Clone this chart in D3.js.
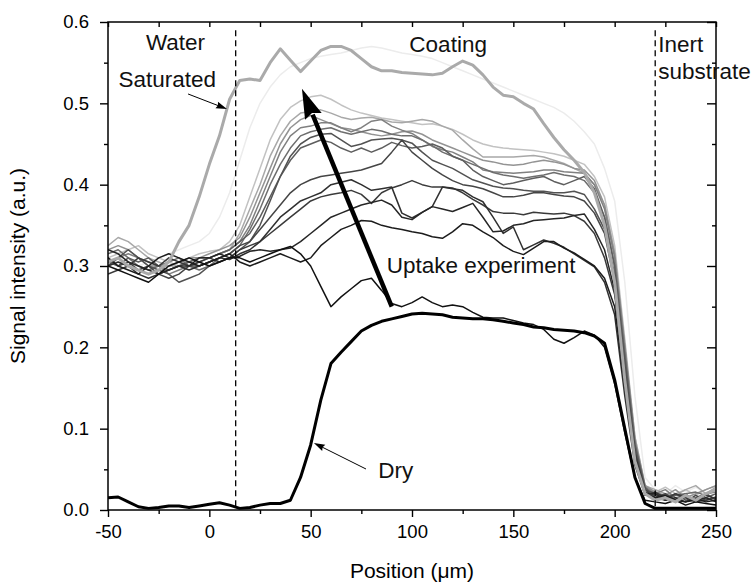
<!DOCTYPE html>
<html><head><meta charset="utf-8">
<script src="https://cdn.jsdelivr.net/npm/d3@7"></script>
<style>
html,body{margin:0;padding:0;background:#fff;}
svg{display:block;font-family:"Liberation Sans",Arial,sans-serif;}
</style></head><body>
<svg id="chart" width="755" height="583"></svg>
<script>
// Depth positions (µm) shared by every profile
const positions = [-50,-45,-40,-35,-30,-25,-20,-15,-10,-5,
  0,5,10,15,20,25,30,35,40,45,
  50,55,60,65,70,75,80,85,90,95,
  100,105,110,115,120,125,130,135,140,145,
  150,155,160,165,170,175,180,185,190,195,
  200,205,210,215,220,225,230,235,240,245,250];

// Fully water-saturated coating
const saturated = [0.305,0.31,0.30,0.295,0.29,0.295,0.305,0.33,0.35,0.385,
  0.425,0.46,0.505,0.528,0.53,0.528,0.55,0.567,0.553,0.539,
  0.552,0.565,0.57,0.57,0.565,0.555,0.545,0.54,0.54,0.538,
  0.537,0.536,0.535,0.537,0.545,0.552,0.547,0.535,0.52,0.51,
  0.508,0.50,0.493,0.475,0.458,0.443,0.43,0.415,0.39,0.35,
  0.28,0.16,0.06,0.02,0.012,0.015,0.01,0.018,0.012,0.02,0.025];

// Dry coating
const dry = [0.015,0.016,0.01,0.004,0.002,0.003,0.005,0.005,0.003,0.005,
  0.007,0.009,0.006,0.002,0.003,0.006,0.008,0.008,0.012,0.04,
  0.08,0.135,0.18,0.194,0.207,0.22,0.227,0.232,0.235,0.238,
  0.241,0.242,0.241,0.24,0.237,0.236,0.235,0.235,0.234,0.232,
  0.23,0.228,0.225,0.224,0.222,0.221,0.22,0.218,0.214,0.205,
  0.16,0.10,0.04,0.008,0.002,0.002,0.002,0.002,0.002,0.002,0.002];

// Profiles recorded during the uptake experiment, earliest first
const uptake1 = [0.30,0.295,0.29,0.285,0.28,0.29,0.30,0.305,0.31,0.305,
  0.30,0.305,0.31,0.31,0.305,0.31,0.315,0.32,0.324,0.315,
  0.30,0.275,0.25,0.262,0.272,0.282,0.285,0.27,0.254,0.25,
  0.255,0.262,0.255,0.25,0.252,0.25,0.243,0.237,0.236,0.236,
  0.233,0.23,0.228,0.222,0.21,0.205,0.212,0.22,0.215,0.20,
  0.155,0.095,0.04,0.012,0.01,0.008,0.012,0.006,0.01,0.008,0.006];
const uptake2 = [0.31,0.30,0.295,0.29,0.30,0.31,0.315,0.31,0.305,0.30,
  0.305,0.31,0.315,0.305,0.30,0.305,0.31,0.315,0.31,0.305,
  0.31,0.325,0.335,0.345,0.35,0.356,0.355,0.35,0.347,0.345,
  0.342,0.34,0.336,0.334,0.342,0.352,0.35,0.342,0.335,0.325,
  0.318,0.314,0.322,0.33,0.33,0.322,0.316,0.308,0.30,0.285,
  0.25,0.15,0.06,0.02,0.015,0.018,0.012,0.01,0.014,0.01,0.012];
const uptake3 = [0.32,0.315,0.305,0.30,0.295,0.29,0.295,0.30,0.30,0.31,
  0.31,0.315,0.31,0.312,0.318,0.32,0.318,0.32,0.322,0.33,
  0.34,0.35,0.36,0.365,0.37,0.375,0.378,0.381,0.375,0.36,
  0.357,0.366,0.373,0.37,0.367,0.372,0.377,0.36,0.342,0.343,
  0.35,0.352,0.356,0.357,0.358,0.359,0.362,0.364,0.345,0.32,
  0.27,0.16,0.065,0.02,0.02,0.012,0.015,0.01,0.012,0.015,0.01];
const uptake4 = [0.30,0.305,0.30,0.29,0.285,0.29,0.295,0.30,0.295,0.30,
  0.305,0.31,0.308,0.315,0.32,0.33,0.345,0.36,0.37,0.38,
  0.385,0.39,0.40,0.403,0.406,0.40,0.393,0.395,0.397,0.365,
  0.359,0.366,0.373,0.397,0.395,0.393,0.385,0.379,0.36,0.34,
  0.348,0.32,0.326,0.332,0.328,0.323,0.315,0.307,0.299,0.28,
  0.24,0.14,0.055,0.018,0.022,0.015,0.01,0.016,0.012,0.018,0.014];
const uptake5 = [0.29,0.295,0.30,0.31,0.305,0.30,0.31,0.305,0.30,0.305,
  0.31,0.305,0.31,0.32,0.325,0.33,0.34,0.35,0.36,0.37,
  0.38,0.385,0.388,0.39,0.393,0.388,0.377,0.39,0.396,0.40,
  0.405,0.40,0.397,0.397,0.396,0.39,0.382,0.375,0.367,0.365,
  0.365,0.363,0.366,0.365,0.364,0.365,0.362,0.355,0.34,0.31,
  0.265,0.165,0.07,0.022,0.018,0.012,0.02,0.015,0.01,0.012,0.016];
const uptake6 = [0.31,0.30,0.305,0.295,0.30,0.29,0.285,0.29,0.30,0.30,
  0.305,0.31,0.315,0.325,0.33,0.345,0.36,0.375,0.39,0.40,
  0.406,0.41,0.412,0.414,0.416,0.418,0.422,0.426,0.44,0.455,
  0.44,0.43,0.42,0.412,0.405,0.40,0.398,0.395,0.39,0.385,
  0.385,0.387,0.39,0.39,0.388,0.386,0.385,0.38,0.365,0.34,
  0.28,0.17,0.07,0.025,0.015,0.02,0.012,0.01,0.018,0.012,0.015];
const uptake7 = [0.30,0.31,0.32,0.31,0.30,0.295,0.29,0.28,0.285,0.29,
  0.30,0.305,0.31,0.32,0.33,0.35,0.38,0.41,0.435,0.45,
  0.458,0.462,0.463,0.455,0.447,0.45,0.455,0.456,0.457,0.455,
  0.451,0.44,0.43,0.425,0.42,0.413,0.406,0.402,0.398,0.396,
  0.395,0.393,0.392,0.392,0.39,0.39,0.392,0.388,0.37,0.345,
  0.29,0.18,0.075,0.025,0.02,0.015,0.02,0.012,0.015,0.02,0.012];
const uptake8 = [0.305,0.30,0.31,0.305,0.31,0.30,0.295,0.30,0.305,0.31,
  0.31,0.315,0.32,0.33,0.34,0.36,0.385,0.41,0.43,0.445,
  0.45,0.455,0.452,0.445,0.44,0.445,0.44,0.445,0.452,0.448,
  0.445,0.447,0.45,0.445,0.435,0.43,0.418,0.41,0.405,0.40,
  0.402,0.405,0.408,0.41,0.404,0.40,0.405,0.41,0.395,0.36,
  0.30,0.19,0.08,0.028,0.015,0.012,0.018,0.02,0.01,0.015,0.02];
const uptake9 = [0.315,0.32,0.31,0.30,0.295,0.30,0.305,0.31,0.30,0.295,
  0.30,0.31,0.315,0.325,0.345,0.37,0.40,0.425,0.445,0.46,
  0.465,0.468,0.47,0.465,0.462,0.465,0.468,0.466,0.462,0.46,
  0.46,0.455,0.448,0.44,0.435,0.43,0.425,0.42,0.415,0.412,
  0.41,0.408,0.41,0.412,0.415,0.412,0.41,0.405,0.39,0.36,
  0.30,0.19,0.08,0.025,0.02,0.018,0.012,0.02,0.022,0.018,0.025];
const uptake10 = [0.30,0.31,0.315,0.31,0.30,0.30,0.29,0.295,0.30,0.305,
  0.31,0.315,0.32,0.33,0.35,0.38,0.41,0.44,0.46,0.47,
  0.472,0.476,0.476,0.47,0.465,0.47,0.478,0.48,0.472,0.467,
  0.463,0.455,0.447,0.443,0.44,0.434,0.428,0.418,0.416,0.415,
  0.414,0.415,0.416,0.418,0.418,0.416,0.415,0.414,0.40,0.37,
  0.31,0.20,0.085,0.028,0.02,0.025,0.015,0.018,0.012,0.02,0.022];
const uptake11 = [0.32,0.325,0.32,0.31,0.305,0.30,0.30,0.305,0.31,0.31,
  0.315,0.32,0.325,0.335,0.36,0.39,0.42,0.45,0.47,0.48,
  0.485,0.48,0.475,0.47,0.468,0.465,0.462,0.46,0.462,0.465,
  0.466,0.462,0.455,0.45,0.445,0.44,0.435,0.43,0.428,0.425,
  0.424,0.425,0.428,0.43,0.428,0.425,0.42,0.418,0.405,0.375,
  0.315,0.20,0.085,0.03,0.022,0.018,0.025,0.015,0.02,0.025,0.03];
const uptake12 = [0.325,0.335,0.33,0.32,0.31,0.305,0.30,0.30,0.305,0.31,
  0.31,0.315,0.32,0.34,0.37,0.40,0.435,0.46,0.478,0.488,
  0.49,0.492,0.488,0.483,0.48,0.482,0.483,0.48,0.477,0.476,
  0.478,0.48,0.478,0.472,0.467,0.455,0.444,0.434,0.434,0.434,
  0.434,0.435,0.436,0.434,0.43,0.426,0.42,0.414,0.40,0.375,
  0.315,0.205,0.09,0.03,0.025,0.02,0.018,0.025,0.03,0.02,0.028];
const uptake13 = [0.31,0.315,0.32,0.325,0.315,0.31,0.305,0.30,0.31,0.315,
  0.318,0.32,0.33,0.35,0.385,0.42,0.455,0.48,0.495,0.503,
  0.508,0.51,0.505,0.498,0.492,0.488,0.485,0.482,0.48,0.478,
  0.476,0.474,0.475,0.472,0.468,0.462,0.455,0.45,0.447,0.445,
  0.444,0.443,0.442,0.44,0.438,0.435,0.43,0.425,0.41,0.385,
  0.325,0.21,0.09,0.03,0.022,0.028,0.02,0.025,0.018,0.025,0.03];
const uptake14 = [0.31,0.305,0.30,0.30,0.305,0.31,0.315,0.32,0.325,0.33,
  0.34,0.36,0.39,0.43,0.47,0.50,0.52,0.535,0.545,0.55,
  0.555,0.558,0.56,0.562,0.565,0.568,0.57,0.568,0.565,0.562,
  0.56,0.558,0.555,0.55,0.545,0.54,0.535,0.53,0.525,0.52,
  0.515,0.51,0.505,0.50,0.495,0.488,0.478,0.465,0.45,0.42,
  0.38,0.28,0.14,0.04,0.025,0.02,0.03,0.022,0.028,0.02,0.025];

const uptakeSeries = [uptake1,uptake2,uptake3,uptake4,uptake5,uptake6,uptake7,
  uptake8,uptake9,uptake10,uptake11,uptake12,uptake13,uptake14];
const uptakeColors = ["#111111","#1c1c1c","#262626","#303030","#3a3a3a","#454545","#525252",
  "#5e5e5e","#6e6e6e","#808080","#939393","#a8a8a8","#c2c2c2","#ececec"];

const xMajor = [-50,0,50,100,150,200,250];
const xMinor = [-25,25,75,125,175,225];
const yMajor = [0,0.1,0.2,0.3,0.4,0.5,0.6];
const yMinor = [0.05,0.15,0.25,0.35,0.45,0.55];
const boundaries = [13,220];

const W = 755, H = 583;
const m = {left:108, right:39, top:22, bottom:73};
const x = d3.scaleLinear().domain([-50,250]).range([m.left, W - m.right]);
const y = d3.scaleLinear().domain([0,0.6]).range([H - m.bottom, m.top]);

const svg = d3.select("#chart");
const FONT = "Liberation Sans, Arial, sans-serif";

svg.append("defs").append("clipPath").attr("id","plot")
  .append("rect").attr("x",m.left).attr("y",m.top)
  .attr("width",x(250)-x(-50)).attr("height",y(0)-y(0.6));

const line = d3.line().x((d,i)=>x(positions[i])).y(d=>y(d));
const curves = svg.append("g").attr("clip-path","url(#plot)");

// latest (lightest) profiles underneath, earliest on top
for (let k = uptakeSeries.length - 1; k >= 0; k--) {
  curves.append("path").datum(uptakeSeries[k]).attr("d", line)
    .attr("fill","none").attr("stroke",uptakeColors[k])
    .attr("stroke-width",1.5).attr("stroke-linejoin","round");
}
curves.append("path").datum(saturated).attr("d", line)
  .attr("fill","none").attr("stroke","#aaaaaa").attr("stroke-width",3)
  .attr("stroke-linejoin","round");
curves.append("path").datum(dry).attr("d", line)
  .attr("fill","none").attr("stroke","#000").attr("stroke-width",3)
  .attr("stroke-linejoin","round");

// interface markers
svg.append("g").selectAll("line").data(boundaries).join("line")
  .attr("x1",d=>x(d)).attr("x2",d=>x(d))
  .attr("y1",y(0.59)).attr("y2",y(0))
  .attr("stroke","#000").attr("stroke-width",1.3)
  .attr("stroke-dasharray","6,4");

// axes
function styleAxis(g){
  g.select(".domain").remove();
  g.selectAll(".tick line").attr("stroke","#000").attr("stroke-width",1.4);
  g.selectAll(".tick text").attr("font-family",FONT).attr("font-size",18.5).attr("fill","#000");
}
svg.append("g").attr("transform",`translate(0,${y(0)})`)
  .call(d3.axisBottom(x).tickValues(xMajor).tickSize(7).tickPadding(8).tickFormat(d => String(d)))
  .call(styleAxis);
svg.append("g").attr("transform",`translate(0,${y(0)})`)
  .call(d3.axisBottom(x).tickValues(xMinor).tickSize(4).tickFormat(""))
  .call(styleAxis);
svg.append("g").attr("transform",`translate(0,${y(0.6)})`)
  .call(d3.axisBottom(x).tickValues(xMajor.concat(xMinor)).tickSize(5).tickFormat(""))
  .call(styleAxis);
svg.append("g").attr("transform",`translate(${x(-50)},0)`)
  .call(d3.axisLeft(y).tickValues(yMajor).tickSize(8).tickPadding(11).tickFormat(d => d.toFixed(1)))
  .call(styleAxis);
svg.append("g").attr("transform",`translate(${x(-50)},0)`)
  .call(d3.axisLeft(y).tickValues(yMinor).tickSize(4).tickFormat(""))
  .call(styleAxis);
svg.append("g").attr("transform",`translate(${x(250)},0)`)
  .call(d3.axisLeft(y).tickValues(yMajor).tickSize(9).tickFormat(""))
  .call(styleAxis);
svg.append("g").attr("transform",`translate(${x(250)},0)`)
  .call(d3.axisLeft(y).tickValues(yMinor).tickSize(4).tickFormat(""))
  .call(styleAxis);

// frame
svg.append("rect").attr("x",x(-50)).attr("y",y(0.6))
  .attr("width",x(250)-x(-50)).attr("height",y(0)-y(0.6))
  .attr("fill","none").attr("stroke","#000").attr("stroke-width",1.5);

// axis titles
svg.append("text").attr("x",(x(-50)+x(250))/2).attr("y",578)
  .attr("text-anchor","middle").attr("font-family",FONT).attr("font-size",21)
  .text("Position (\u03bcm)");
svg.append("text").attr("transform",`translate(25,${(y(0)+y(0.6))/2}) rotate(-90)`)
  .attr("text-anchor","middle").attr("font-family",FONT).attr("font-size",21)
  .text("Signal intensity (a.u.)");

// annotations
const labels = [
  {t:"Water", px:-31.3, py:0.565},
  {t:"Saturated", px:-44.8, py:0.52},
  {t:"Coating", px:98.7, py:0.563},
  {t:"Inert", px:221.5, py:0.563},
  {t:"substrate", px:221.5, py:0.53},
  {t:"Uptake experiment", px:87.5, py:0.292},
  {t:"Dry", px:83.4, py:0.039}
];
svg.append("g").selectAll("text").data(labels).join("text")
  .attr("x",d=>x(d.px)).attr("y",d=>y(d.py))
  .attr("font-family",FONT).attr("font-size",22.5).attr("fill","#111")
  .text(d=>d.t);

function arrow(x0,y0,x1,y1,len,half,width){
  const ax = x(x0), ay = y(y0), bx = x(x1), by = y(y1);
  const dx = bx-ax, dy = by-ay, L = Math.hypot(dx,dy);
  const ux = dx/L, uy = dy/L;
  const cx = bx-ux*len, cy = by-uy*len;
  svg.append("line").attr("x1",ax).attr("y1",ay)
    .attr("x2",cx+ux*2).attr("y2",cy+uy*2)
    .attr("stroke","#000").attr("stroke-width",width);
  svg.append("path")
    .attr("d",`M${bx},${by}L${cx-uy*half},${cy+ux*half}L${cx+ux*len*0.12},${cy+uy*len*0.12}L${cx+uy*half},${cy-ux*half}Z`)
    .attr("fill","#000");
}
arrow(90,0.25,45.7,0.518,30,9,4.5);
arrow(-10.5,0.5115,8.7,0.493,11,3.5,1);
arrow(77.3,0.0504,51.6,0.0824,11,3.5,1);
</script>
</body></html>
